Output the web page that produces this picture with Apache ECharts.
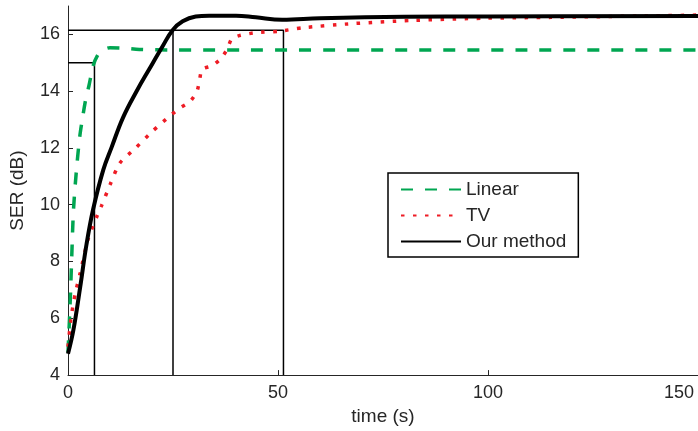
<!DOCTYPE html>
<html>
<head>
<meta charset="utf-8">
<script src="https://cdn.jsdelivr.net/npm/echarts@6/dist/echarts.min.js"></script>
<style>
  html, body { margin: 0; padding: 0; background: #fff; }
  #chart { width: 698px; height: 431px; }
</style>
</head>
<body>
<div id="chart"></div>
<script>
// SER (dB) against time (s)
const tLinear = [0, 0.5, 0.9, 1.3, 2, 2.8, 3.4, 4.2, 5, 6, 7, 8, 10, 13, 17, 25, 150];
const serLinear = [4.8, 6.5, 8.2, 9.8, 11.2, 12.4, 13.0, 13.7, 14.2, 14.9, 15.25, 15.42, 15.53, 15.52, 15.47, 15.45, 15.45];

const tTV = [0, 0.75, 1.7, 2.9, 4.8, 6.8, 8, 10, 12.3, 16.3, 20.2, 24.5, 26.7, 29.1, 30.7, 31.3, 31.9, 34.4, 36.5,
    37.9, 39, 41.1, 44.7, 50.2, 55.7, 66.7, 81.7, 99, 115, 138, 150];
const serTV = [5.0, 6.05, 6.85, 7.6, 8.8, 9.56, 9.97, 10.7, 11.46, 12.03, 12.6, 13.16, 13.41, 13.64, 13.99, 14.36, 14.77, 14.9, 15.16,
    15.48, 15.85, 15.97, 16.06, 16.11, 16.23, 16.37, 16.49, 16.57, 16.6, 16.65, 16.68];

const tOurs = [0, 1.3, 2.9, 4.4, 6, 8.4, 10.4, 13.1, 16.3, 19.4, 22.6, 24.9, 27.3, 30.4, 33.6, 40, 44.7, 51, 60, 80, 100, 150];
const serOurs = [4.75, 5.6, 7.1, 8.6, 9.85, 11.23, 12.03, 13.07, 13.99, 14.79, 15.6, 16.15, 16.46, 16.63, 16.66, 16.66, 16.6, 16.52, 16.57, 16.62, 16.63, 16.65];

// convergence markers: level reached and the time it is reached
const levelLinear = 15;
const timeLinear = 6.3;
const levelHigh = 16.15;
const timeOurs = 25.0;
const timeTV = 51.3;

const yTicks = [4, 6, 8, 10, 12, 14, 16];
const xTicks = [0, 50, 100, 150];

const zip = (xs, ys) => xs.map((x, i) => [x, ys[i]]);

const textColor = '#262626';
const font = "'Liberation Sans', Arial, Helvetica, sans-serif";

const markerLine = (name, data) => ({
    name: name,
    type: 'line',
    data: data,
    symbol: 'none',
    silent: true,
    z: 1,
    lineStyle: { color: '#000', width: 1.5 }
});

const yMin = yTicks[0];

const option = {
    animation: false,
    textStyle: { fontFamily: font },
    grid: { left: 64, right: -3, top: 6, bottom: 48 },
    legend: {
        data: ['Linear', 'TV', 'Our method'],
        orient: 'vertical',
        left: 388,
        top: 173,
        padding: [6, 12, 5, 12],
        itemWidth: 60,
        itemHeight: 14,
        itemGap: 5,
        borderColor: '#000',
        borderWidth: 1.5,
        backgroundColor: '#fff',
        // hide the symbol drawn in the middle of each legend line
        itemStyle: { opacity: 0 },
        textStyle: { fontSize: 19, color: textColor, fontFamily: font, lineHeight: 21 }
    },
    xAxis: {
        type: 'value',
        min: 0,
        max: 150,
        interval: 50,
        name: 'time (s)',
        nameLocation: 'middle',
        nameGap: 22,
        nameTextStyle: { fontSize: 19, color: textColor, fontFamily: font },
        splitLine: { show: false },
        axisLine: { lineStyle: { color: textColor, width: 1 } },
        axisTick: { inside: true, length: 5, lineStyle: { color: textColor } },
        axisLabel: {
            fontSize: 18,
            color: textColor,
            margin: 9,
            alignMaxLabel: 'right',
            formatter: v => v === xTicks[xTicks.length - 1] ? '{m|' + v + '}' : String(v),
            rich: { m: { fontSize: 18, color: textColor, padding: [0, 4, 0, 0] } }
        }
    },
    yAxis: {
        type: 'value',
        min: 4,
        max: 17,
        interval: 2,
        name: 'SER (dB)',
        nameLocation: 'middle',
        nameGap: 41,
        nameTextStyle: { fontSize: 19, color: textColor, fontFamily: font },
        splitLine: { show: false },
        axisLine: { show: true, lineStyle: { color: textColor, width: 1 } },
        axisTick: { inside: true, length: 5, lineStyle: { color: textColor }, customValues: yTicks },
        axisLabel: { fontSize: 18, color: textColor, margin: 8, customValues: yTicks }
    },
    series: [
        markerLine('m1', [[0, levelLinear], [timeLinear, levelLinear], [timeLinear, yMin]]),
        markerLine('m2', [[0, levelHigh], [timeTV, levelHigh], [timeTV, yMin]]),
        markerLine('m3', [[timeOurs, levelHigh], [timeOurs, yMin]]),
        {
            name: 'Linear',
            type: 'line',
            data: zip(tLinear, serLinear),
            symbol: 'none',
            smooth: 0.3,
            z: 3,
            lineStyle: { color: '#00a651', width: 3.5, type: [12, 12] },
            itemStyle: { color: '#00a651' }
        },
        {
            name: 'TV',
            type: 'line',
            data: zip(tTV, serTV),
            symbol: 'none',
            smooth: 0.2,
            z: 3,
            lineStyle: { color: '#ee1c25', width: 3.5, type: [3.5, 8.5] },
            itemStyle: { color: '#ee1c25' }
        },
        {
            name: 'Our method',
            type: 'line',
            data: zip(tOurs, serOurs),
            symbol: 'none',
            smooth: 0.4,
            z: 4,
            lineStyle: { color: '#000', width: 4 },
            itemStyle: { color: '#000' }
        }
    ]
};

const chart = echarts.init(document.getElementById('chart'));
chart.setOption(option);
</script>
</body>
</html>
